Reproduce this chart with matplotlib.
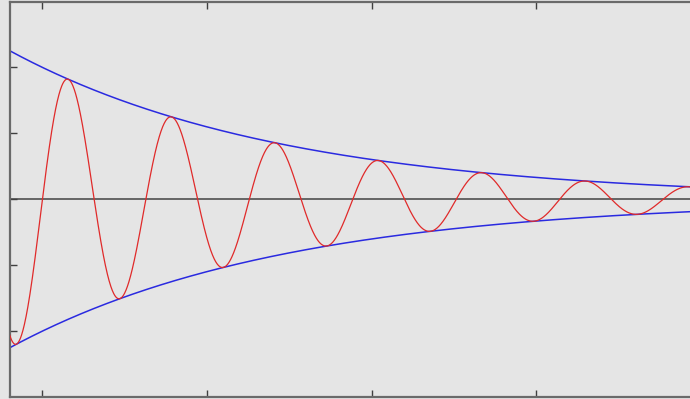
import numpy as np
import matplotlib
matplotlib.use("Agg")
import matplotlib.pyplot as plt

# Damped oscillation y = A * exp(-k t) * sin(w t) and its envelope
amplitude = 2.0
decay = 0.12
omega = 2.0
t_range = [-1.0, 20.0]
y_range = [-3.0, 3.0]
x_ticks = [0, 5, 10, 15, 20]
y_ticks = [-2, -1, 0, 1, 2]

t = np.linspace(t_range[0], t_range[1], 2000)
envelope = amplitude * np.exp(-decay * t)
signal = envelope * np.sin(omega * t)

bg = "#e5e5e5"
fig = plt.figure(figsize=(6.9, 3.99), dpi=100, facecolor=bg)
ax = fig.add_axes([9.5 / 690, 2.0 / 399, 691.5 / 690, 395.5 / 399])
ax.set_facecolor(bg)

ax.axhline(0, color="#505050", lw=1.2, zorder=1)
ax.plot(t, envelope, color="#2a2ae0", lw=1.1, zorder=2)
ax.plot(t, -envelope, color="#2a2ae0", lw=1.1, zorder=2)
ax.plot(t, signal, color="#e02a2a", lw=0.9, zorder=3)

ax.set_xlim(*t_range)
ax.set_ylim(*y_range)
ax.set_xticks(x_ticks)
ax.set_yticks(y_ticks)
ax.set_xticklabels([])
ax.set_yticklabels([])
ax.tick_params(direction="in", length=5, width=1, color="#404040",
               top=True, bottom=True, left=True, right=True)
for side in ax.spines.values():
    side.set_color("#6a6a6a")
    side.set_linewidth(1.6)

fig.savefig("out.png", dpi=100, facecolor=bg)
